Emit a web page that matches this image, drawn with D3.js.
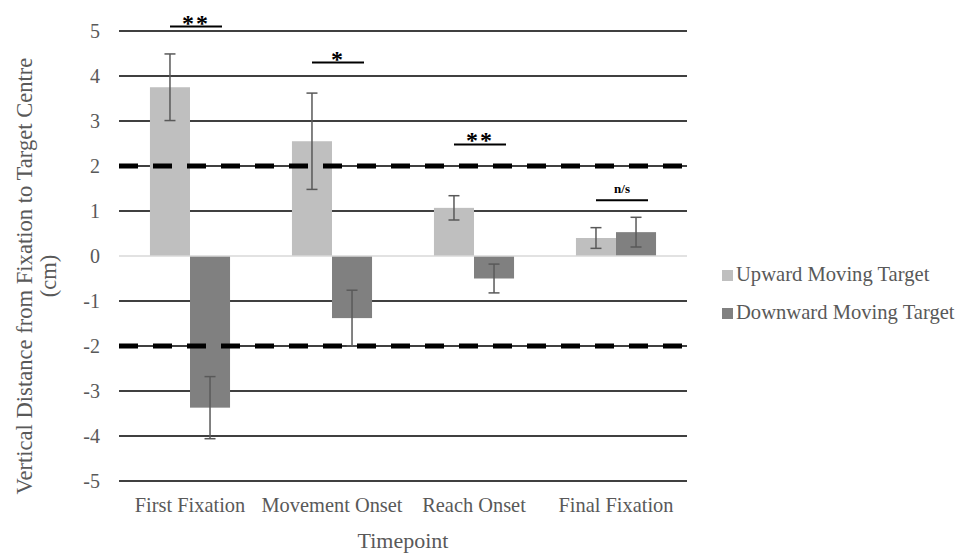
<!DOCTYPE html>
<html>
<head>
<meta charset="utf-8">
<script src="https://cdn.jsdelivr.net/npm/d3@7"></script>
<style>
	body { margin: 0; background: #fff; }
	text { font-family: "Liberation Serif", "Times New Roman", serif; fill: #595959; }
</style>
</head>
<body>
<svg width="967" height="556"></svg>
<script>
// chart values
const timepoints = ["First Fixation", "Movement Onset", "Reach Onset", "Final Fixation"]
const seriesNames = ["Upward Moving Target", "Downward Moving Target"]
const upward = [3.75, 2.55, 1.07, 0.40]
const upwardErr = [0.74, 1.07, 0.27, 0.23]
const downward = [-3.37, -1.38, -0.50, 0.53]
const downwardErr = [0.69, 0.62, 0.32, 0.33]
const yTicks = [5, 4, 3, 2, 1, 0, -1, -2, -3, -4, -5]
const thresholds = [2, -2]
const sigLabels = ["**", "*", "**", "n/s"]
const sigLevels = [5.1, 4.3, 2.48, 1.24]

const colors = ["#bfbfbf", "#808080"]
const margin = {top: 31, right: 280, bottom: 75, left: 119}
const width = 967 - margin.left - margin.right
const height = 556 - margin.top - margin.bottom

const svg = d3.select("svg")
const g = svg.append("g")
	.attr("transform", "translate(" + margin.left + "," + margin.top + ")")

const x = d3.scaleBand().domain(timepoints).range([0, width]).paddingInner(0.436).paddingOuter(0.218)
const xs = d3.scaleBand().domain([0, 1]).range([0, x.bandwidth()])
const y = d3.scaleLinear().domain([-5, 5]).range([height, 0])

// gridlines
g.append("g")
	.selectAll("line")
	.data(yTicks.filter(d => d !== 0))
	.join("line")
	.attr("x1", 0)
	.attr("x2", width)
	.attr("y1", d => y(d))
	.attr("y2", d => y(d))
	.attr("stroke", "#000")
	.attr("stroke-width", 1.3)

// tick labels
g.append("g")
	.selectAll("text")
	.data(yTicks)
	.join("text")
	.attr("x", -19)
	.attr("y", d => y(d))
	.attr("dy", "0.35em")
	.attr("text-anchor", "end")
	.style("font-size", "20px")
	.text(d => d)

const rows = timepoints.map((t, i) => [
	{t: t, s: 0, v: upward[i], e: upwardErr[i]},
	{t: t, s: 1, v: downward[i], e: downwardErr[i]},
])

const groups = g.append("g")
	.selectAll("g")
	.data(rows)
	.join("g")
	.attr("transform", d => "translate(" + x(d[0].t) + ",0)")

groups.selectAll("rect")
	.data(d => d)
	.join("rect")
	.attr("x", d => xs(d.s))
	.attr("width", xs.bandwidth())
	.attr("y", d => y(Math.max(0, d.v)))
	.attr("height", d => Math.abs(y(d.v) - y(0)))
	.attr("fill", d => colors[d.s])

// zero line
g.append("line")
	.attr("x1", 0)
	.attr("x2", width)
	.attr("y1", y(0))
	.attr("y2", y(0))
	.attr("stroke", "#d9d9d9")
	.attr("stroke-width", 1.5)

// error bars
const err = groups.selectAll("g.err")
	.data(d => d)
	.join("g")
	.attr("class", "err")
	.attr("stroke", "#595959")
	.attr("stroke-width", 1.5)
err.append("line")
	.attr("x1", d => xs(d.s) + xs.bandwidth() / 2)
	.attr("x2", d => xs(d.s) + xs.bandwidth() / 2)
	.attr("y1", d => y(d.v + d.e))
	.attr("y2", d => y(d.v - d.e))
err.selectAll("line.cap")
	.data(d => [d.v + d.e, d.v - d.e].map(v => ({s: d.s, v: v})))
	.join("line")
	.attr("class", "cap")
	.attr("x1", d => xs(d.s) + xs.bandwidth() / 2 - 5.5)
	.attr("x2", d => xs(d.s) + xs.bandwidth() / 2 + 5.5)
	.attr("y1", d => y(d.v))
	.attr("y2", d => y(d.v))

// dashed threshold lines
g.append("g")
	.selectAll("line")
	.data(thresholds)
	.join("line")
	.attr("x1", 0)
	.attr("x2", width)
	.attr("y1", d => y(d))
	.attr("y2", d => y(d))
	.attr("stroke", "#000")
	.attr("stroke-width", 5)
	.attr("stroke-dasharray", "19,15")

// significance brackets
const sig = g.append("g")
	.selectAll("g")
	.data(timepoints.map((t, i) => ({t: t, label: sigLabels[i], level: sigLevels[i]})))
	.join("g")
	.attr("transform", d => "translate(" + (x(d.t) + x.bandwidth() / 2 + 6) + "," + y(d.level) + ")")
sig.append("line")
	.attr("x1", -26)
	.attr("x2", 26)
	.attr("stroke", "#000")
	.attr("stroke-width", 2)
sig.append("text")
	.attr("text-anchor", "middle")
	.attr("y", d => d.label === "n/s" ? -7 : 4)
	.style("font-weight", "bold")
	.style("font-size", d => d.label === "n/s" ? "13px" : "24px")
	.style("fill", "#000")
	.style("letter-spacing", d => d.label === "n/s" ? "0px" : "2px")
	.text(d => d.label)

// x axis labels
g.append("g")
	.selectAll("text")
	.data(timepoints)
	.join("text")
	.attr("x", d => x(d) + x.bandwidth() / 2)
	.attr("y", height + 31)
	.attr("text-anchor", "middle")
	.style("font-size", "20.4px")
	.text(d => d)

g.append("text")
	.attr("x", width / 2)
	.attr("y", height + 67)
	.attr("text-anchor", "middle")
	.style("font-size", "22px")
	.text("Timepoint")

const yTitle = svg.append("text")
	.attr("transform", "translate(32,276) rotate(-90)")
	.attr("text-anchor", "middle")
	.style("font-size", "22.6px")
yTitle.append("tspan").attr("x", 0).attr("y", 0).text("Vertical Distance from Fixation to Target Centre")
yTitle.append("tspan").attr("x", 0).attr("y", 24).text("(cm)")

// legend
const legend = svg.append("g")
	.selectAll("g")
	.data(seriesNames)
	.join("g")
	.attr("transform", (d, i) => "translate(722," + (274 + i * 38) + ")")
legend.append("rect")
	.attr("y", -4)
	.attr("width", 11)
	.attr("height", 11)
	.attr("fill", (d, i) => colors[i])
legend.append("text")
	.attr("x", 14)
	.attr("dy", "0.35em")
	.style("font-size", "20.6px")
	.text(d => d)
</script>
</body>
</html>
